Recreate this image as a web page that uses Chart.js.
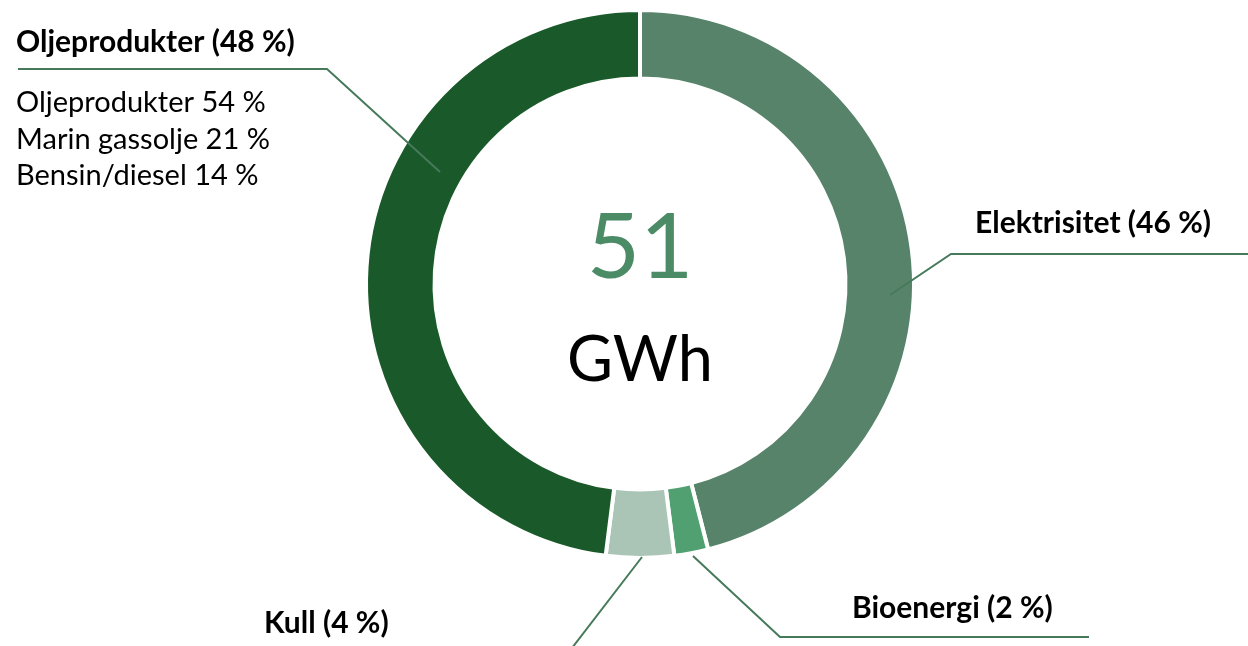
<!DOCTYPE html>
<html>
<head>
<meta charset="utf-8">
<script src="https://cdn.jsdelivr.net/npm/chart.js@4/dist/chart.umd.min.js"></script>
<style>
html,body{margin:0;padding:0;background:#fff;}
#wrap{width:1248px;height:646px;position:relative;}
</style>
</head>
<body>
<div id="wrap"><canvas id="c" width="1248" height="646"></canvas></div>
<script>
const categories = ["Elektrisitet", "Bioenergi", "Kull", "Oljeprodukter"];
const shares = [46, 2, 4, 48];
const colors = ["#56836a", "#51a072", "#aac4b6", "#1a5a2a"];
const totalValue = "51";
const totalUnit = "GWh";
const oilBreakdown = ["Oljeprodukter 54 %", "Marin gassolje 21 %", "Bensin/diesel 14 %"];

const FONT = "Lato, 'Open Sans', sans-serif";
const LINE = "#467a5b";

const labelPlugin = {
  id: "labels",
  afterDraw(chart) {
    const ctx = chart.ctx;
    const meta = chart.getDatasetMeta(0);
    const arc0 = meta.data[0];
    const cx = arc0.x, cy = arc0.y;
    ctx.save();
    // centre text
    ctx.textAlign = "center";
    ctx.textBaseline = "alphabetic";
    ctx.fillStyle = "#4b8b66";
    ctx.font = "400 92px " + FONT;
    ctx.fillText(totalValue, cx, 278);
    ctx.fillStyle = "#000";
    ctx.font = "400 63px " + FONT;
    ctx.fillText(totalUnit, cx, 381);

    ctx.strokeStyle = LINE;
    ctx.lineWidth = 2;
    const poly = (pts) => {
      ctx.beginPath();
      ctx.moveTo(pts[0][0], pts[0][1]);
      for (let k = 1; k < pts.length; k++) ctx.lineTo(pts[k][0], pts[k][1]);
      ctx.stroke();
    };
    // Elektrisitet
    poly([[890, 295], [951, 254], [1248, 254]]);
    // Bioenergi
    poly([[693, 556], [780, 637], [1089, 637]]);
    // Kull
    poly([[642, 557], [572, 648]]);
    // Oljeprodukter
    poly([[440, 172], [327, 69], [18, 69]]);

    ctx.fillStyle = "#000";
    ctx.textBaseline = "alphabetic";
    ctx.font = "700 30px " + FONT;
    ctx.textAlign = "left";
    ctx.fillText(categories[3] + " (" + shares[3] + " %)", 16, 52);
    ctx.fillText(categories[0] + " (" + shares[0] + " %)", 975, 233);
    ctx.fillText(categories[1] + " (" + shares[1] + " %)", 852, 618);
    ctx.fillText(categories[2] + " (" + shares[2] + " %)", 264, 633);

    ctx.font = "400 29px " + FONT;
    oilBreakdown.forEach((t, i) => ctx.fillText(t, 16, 112 + i * 36.5));
    ctx.restore();
  }
};

new Chart(document.getElementById("c"), {
  type: "doughnut",
  data: {
    labels: categories,
    datasets: [{
      data: shares,
      backgroundColor: colors,
      borderColor: "#ffffff",
      borderWidth: 4,
      borderAlign: "center"
    }]
  },
  options: {
    responsive: false,
    animation: false,
    cutout: "75%",
    layout: { padding: { top: 8, bottom: 86, left: 32, right: 0 } },
    plugins: { legend: { display: false }, tooltip: { enabled: false } }
  },
  plugins: [labelPlugin]
});
</script>
</body>
</html>
